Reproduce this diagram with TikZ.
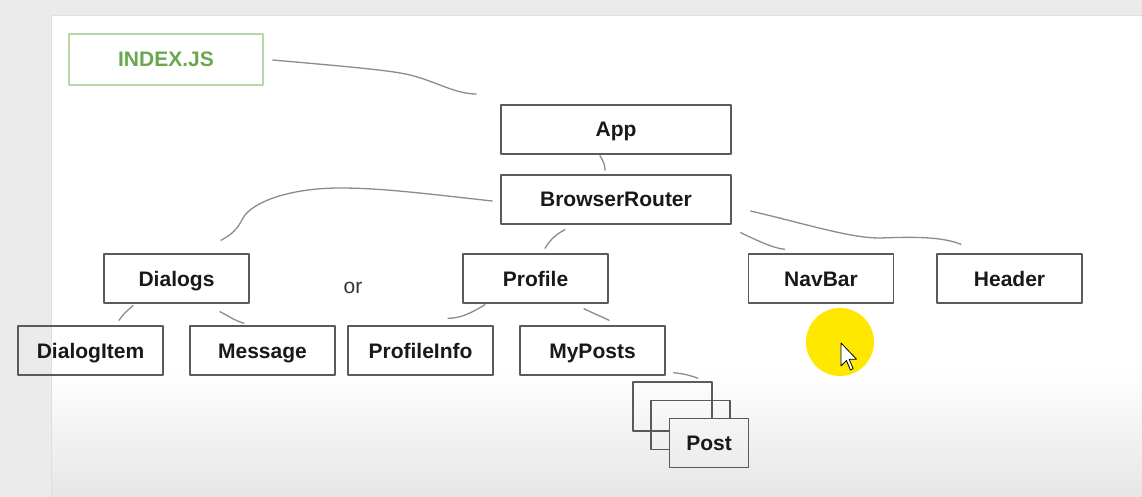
\documentclass[tikz,border=0pt]{standalone}
\usepackage{fontspec}
\setmainfont{Liberation Sans}
\usetikzlibrary{calc}

\definecolor{pagegray}{HTML}{EBEBEB}
\definecolor{slidegray}{HTML}{E6E6E6}
\definecolor{boxgray}{HTML}{5A5A5A}
\definecolor{linkgray}{HTML}{8C8C8C}
\definecolor{indexgreen}{HTML}{6AA84F}
\definecolor{indexframe}{HTML}{B6D7A8}
\definecolor{markyellow}{HTML}{FFE800}

\begin{document}
\begin{tikzpicture}[line cap = round, line join = round, x=1pt, y=-1pt]
\tikzstyle{block}=[draw=boxgray, line width=1.4pt, minimum width=145pt, minimum height=49pt, inner sep=0pt, text height=15pt, text depth=0pt, font=\fontsize{21}{25}\selectfont\bfseries, text=black!90]
\tikzstyle{wide}=[block, minimum width=230pt]
\tikzstyle{postbox}=[block, minimum width=79pt]
\tikzstyle{link}=[draw=linkgray, line width=1.3pt]

% slide backdrop
\useasboundingbox (0,0) rectangle (1142,497);
\fill[pagegray] (0,0) rectangle (1142,497);
\fill[white] (51,16) rectangle (1142,370);
\shade[top color=white, bottom color=slidegray] (51,370) rectangle (1142,497);
\draw[black!12, line width=1pt] (51,497) -- (51,16) -- (1142,16);

\node[block, draw=indexframe, text=indexgreen, minimum width=194pt, minimum height=51pt] (index) at (166,59.5) {INDEX.JS};
\node[wide] (app) at (616,129.5) {App};
\node[wide] (router) at (616,199.5) {BrowserRouter};
\node[block] (dialogs) at (176.5,278.5) {Dialogs};
\node[block] (profile) at (535.5,278.5) {Profile};
\node[block] (navbar) at (821,278.5) {NavBar};
\node[block] (header) at (1009.5,278.5) {Header};
\node[block] (dialogitem) at (90.5,350.5) {DialogItem};
\node[block] (message) at (262.5,350.5) {Message};
\node[block] (profileinfo) at (420.5,350.5) {ProfileInfo};
\node[block] (myposts) at (592.5,350.5) {MyPosts};
\node[postbox] (post1) at (672.5,406.5) {};
\node[postbox] (post2) at (690.5,425) {};
\node[postbox, top color=slidegray!38!white, bottom color=slidegray!77!white] (post3) at (709,443) {Post};
\node[text=black!80, font=\fontsize{21}{25}\selectfont] (or) at (353,288) {or};

\draw[link] ($(index.east)+(9,0.5)$) .. controls (340,66) and (390,70) .. (410,75) .. controls (435,81) and (455,94) .. ($(app.west)+(-24,-35.5)$);
\draw[link] ($(app.south)+(-16,1)$) .. controls +(3,5) and +(0,-6) .. ($(router.north)+(-11,-4)$);
\draw[link] ($(router.west)+(-8,1.5)$) .. controls (420,193) and (380,188) .. (340,188) .. controls (290,188) and (252,202) .. (243,218) .. controls (237,230) and (232,234) .. ($(dialogs.north)+(44.5,-13)$);
\draw[link] ($(router.south)+(-51,5)$) .. controls +(-10,5) and +(5,-8) .. ($(profile.north)+(9.5,-5)$);
\draw[link] ($(router.south east)+(9,8)$) .. controls +(15,7) and +(-12,-1) .. ($(navbar.north west)+(37,-4)$);
\draw[link] ($(router.east)+(19,11.5)$) .. controls (810,225) and (850,238) .. (880,238) .. controls (910,237) and (940,236) .. ($(header.north)+(-48.5,-9)$);
\draw[link] ($(dialogs.south)+(-43.5,2)$) .. controls +(-6,5) and +(4,-6) .. ($(dialogitem.north)+(28.5,-5)$);
\draw[link] ($(dialogs.south)+(43.5,8)$) .. controls +(8,4) and +(-10,-3) .. ($(message.north)+(-18.5,-2)$);
\draw[link] ($(profile.south)+(-50.5,1)$) .. controls +(-15,9) and +(12,0) .. ($(profileinfo.north)+(27.5,-7)$);
\draw[link] ($(profile.south)+(48.5,5)$) .. controls +(10,5) and +(-8,-4) .. ($(myposts.north)+(16.5,-5)$);
\draw[link] ($(myposts.south east)+(8,-3)$) .. controls +(10,1) and +(-8,-3) .. ($(post1.north)+(25.5,-3)$);

% pointer highlight
\fill[markyellow] (840,342) circle (34pt);
\draw[black, fill=white, line width=0.8pt, shift={(841,343)}, scale=1.35] (0,0) -- (0,17) -- (4,13) -- (7,20) -- (9,19) -- (6,12) -- (11.5,12) -- cycle;
\end{tikzpicture}
\end{document}
